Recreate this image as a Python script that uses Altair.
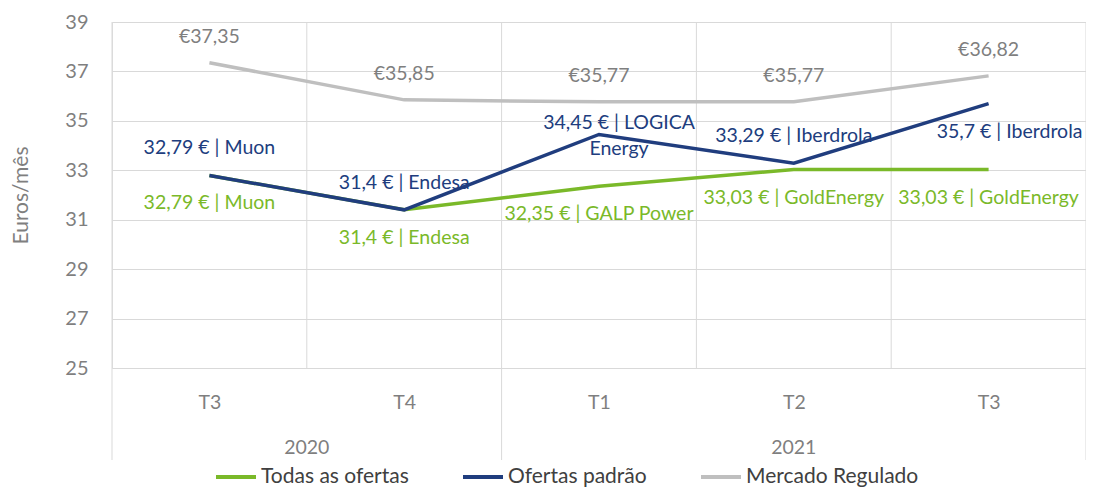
import altair as alt
import pandas as pd

quarters = ["T3", "T4", "T1", "T2", "T3"]
years = ["2020", "2020", "2021", "2021", "2021"]

series_names = ["Todas as ofertas", "Ofertas padrão", "Mercado Regulado"]
series_colors = ["#7AB929", "#203D7E", "#BFBFBF"]
label_colors = ["#7AB929", "#203D7E", "#7F7F7F"]

todas = [32.79, 31.4, 32.35, 33.03, 33.03]
padrao = [32.79, 31.4, 34.45, 33.29, 35.7]
regulado = [37.35, 35.85, 35.77, 35.77, 36.82]

todas_labels = ["32,79 € | Muon", "31,4 € | Endesa", "32,35 € | GALP Power",
                "33,03 € | GoldEnergy", "33,03 € | GoldEnergy"]
padrao_labels = ["32,79 € | Muon", "31,4 € | Endesa", "34,45 € | LOGICA\nEnergy",
                 "33,29 € | Iberdrola", "35,7 € | Iberdrola"]
regulado_labels = ["€37,35", "€35,85", "€35,77", "€35,77", "€36,82"]

y_ticks = [25, 27, 29, 31, 33, 35, 37, 39]

FONT = "Lato"
W, H = 974, 346

n = len(quarters)
rows = []
for name, vals, labs in zip(series_names, [todas, padrao, regulado],
                            [todas_labels, padrao_labels, regulado_labels]):
    for i, (v, l) in enumerate(zip(vals, labs)):
        rows.append({"i": i, "serie": name, "valor": v, "rotulo": l})
df = pd.DataFrame(rows)

bounds = pd.DataFrame({"b": [i - 0.5 for i in range(n + 1)]})
grp_b = [-0.5] + [i + 0.5 for i in range(n - 1) if years[i] != years[i + 1]] + [n - 0.5]
groups = pd.DataFrame({"b": grp_b})
year_df = pd.DataFrame({"ano": years, "i": list(range(n))}).groupby("ano", as_index=False)["i"].mean()

x_scale = alt.Scale(domain=[-0.5, n - 0.5], nice=False, zero=False)
y_scale = alt.Scale(domain=[min(y_ticks), max(y_ticks)], nice=False, zero=False)

label_expr = "[" + ",".join(f"'{q}'" for q in quarters) + "][datum.value]"

x_enc = alt.X("i:Q", scale=x_scale,
              axis=alt.Axis(values=list(range(n)), labelExpr=label_expr, grid=False,
                            ticks=False, domain=False, labelPadding=25, labelFontSize=19.5,
                            labelColor="#7F7F7F", labelFont=FONT, title=None))
y_enc = alt.Y("valor:Q", scale=y_scale,
              axis=alt.Axis(values=y_ticks, grid=True, gridColor="#D9D9D9", ticks=False,
                            domain=False, labelPadding=24, labelFontSize=20,
                            labelColor="#7F7F7F", labelFont=FONT,
                            title="Euros/mês", titleFont=FONT, titleFontSize=21,
                            titleFontWeight="normal", titleColor="#7F7F7F", titlePadding=33))

vgrid = alt.Chart(bounds).mark_rule(color="#D9D9D9", strokeWidth=1).encode(
    x=alt.X("b:Q", scale=x_scale), y=alt.datum(max(y_ticks)), y2=alt.datum(min(y_ticks)))
sep = alt.Chart(groups).mark_rule(color="#D9D9D9", strokeWidth=1).encode(
    x=alt.X("b:Q", scale=x_scale), y=alt.value(H), y2=alt.value(H + 92))
year_text = alt.Chart(year_df).mark_text(font=FONT, fontSize=19.5, color="#7F7F7F").encode(
    x=alt.X("i:Q", scale=x_scale), y=alt.value(H + 80), text="ano:N")

lines = alt.Chart(df).mark_line(strokeWidth=3.5).encode(
    x=x_enc, y=y_enc,
    color=alt.Color("serie:N", sort=series_names,
                    scale=alt.Scale(domain=series_names, range=series_colors),
                    legend=alt.Legend(title=None, orient="none", legendX=102, legendY=433,
                                      direction="horizontal", symbolType="stroke",
                                      symbolStrokeWidth=4, symbolSize=1600,
                                      labelFont=FONT, labelFontSize=21, labelLimit=400,
                                      labelColor="#404040", columnPadding=46,
                                      labelOffset=3, padding=0)),
    order=alt.Order("i:Q"))


def labels(series_idx, dx=0, dy=0, idx=None):
    c = alt.Chart(df).transform_filter(
        alt.datum.serie == series_names[series_idx])
    if idx is not None:
        c = c.transform_filter(alt.FieldOneOfPredicate(field="i", oneOf=idx))
    return c.mark_text(font=FONT, fontSize=19.5, color=label_colors[series_idx],
                       dx=dx, dy=dy, lineBreak="\n", lineHeight=26, baseline="middle").encode(
        x=alt.X("i:Q", scale=x_scale), y=alt.Y("valor:Q", scale=y_scale), text="rotulo:N")


layers = [
    vgrid, sep, year_text, lines,
    labels(0, dy=28),
    labels(1, dy=-27, idx=[0, 1, 3]),
    labels(1, dx=20, dy=-11, idx=[2]),
    labels(1, dx=21, dy=28, idx=[4]),
    labels(2, dy=-26),
]

chart = alt.layer(*layers).properties(
    width=W, height=H,
    padding={"left": 104, "top": 14, "right": 0, "bottom": 119},
    autosize=alt.AutoSizeParams(type="none"),
).configure_view(stroke=None).configure(background="white")

chart.save("out.html", embed_options={"renderer": "svg", "actions": False})
